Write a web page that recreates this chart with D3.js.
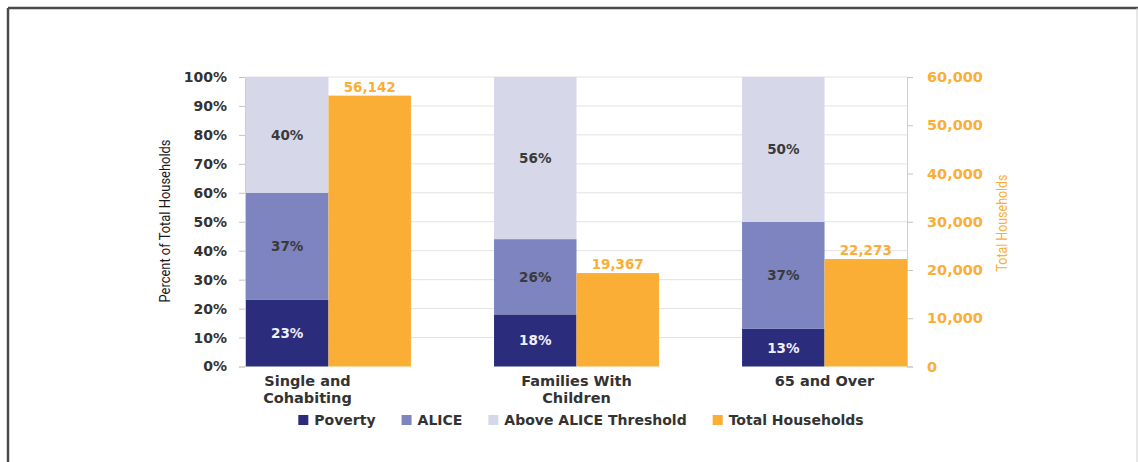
<!DOCTYPE html>
<html>
<head>
<meta charset="utf-8">
<script src="https://cdn.jsdelivr.net/npm/d3@7/dist/d3.min.js"></script>
<style>
  html, body { margin: 0; padding: 0; background: #fff; }
  svg { display: block; }
</style>
</head>
<body>
<svg id="chart" width="1138" height="462"></svg>
<script>
// ---- data ----
const categories = ["Single and Cohabiting", "Families With Children", "65 and Over"];
const categoryLines = [["Single and", "Cohabiting"], ["Families With", "Children"], ["65 and Over"]];
const poverty = [23, 18, 13];
const alice = [37, 26, 37];
const above = [40, 56, 50];
const totals = [56142, 19367, 22273];
const pctTicks = [0, 10, 20, 30, 40, 50, 60, 70, 80, 90, 100];
const totalTicks = [0, 10000, 20000, 30000, 40000, 50000, 60000];
const seriesNames = ["Poverty", "ALICE", "Above ALICE Threshold", "Total Households"];

// ---- style ----
const colors = { Poverty: "#2b2d7c", ALICE: "#7d84bf", "Above ALICE Threshold": "#d6d8ea", "Total Households": "#fbae36" };
const boldFont = "'DejaVu Sans', sans-serif";
const narrowFont = "'Liberation Sans Narrow', 'Roboto', sans-serif";

const svg = d3.select("#chart");

// frame
svg.append("line").attr("x1", 8).attr("x2", 1138).attr("y1", 8).attr("y2", 8).attr("stroke", "#4a4a4a").attr("stroke-width", 2.5);
svg.append("line").attr("x1", 8).attr("x2", 8).attr("y1", 8).attr("y2", 462).attr("stroke", "#4a4a4a").attr("stroke-width", 2.5);
svg.append("line").attr("x1", 1137).attr("x2", 1137).attr("y1", 8).attr("y2", 462).attr("stroke", "#d0d0d0").attr("stroke-width", 1);

const plotL = 245, plotR = 907, plotT = 77, plotB = 366.5;

const yPct = d3.scaleLinear().domain([0, 100]).range([plotB, plotT]);
const yTot = d3.scaleLinear().domain([0, 60000]).range([plotB, plotT]);
const x0 = d3.scaleBand().domain(categories).range([plotL + 1, plotR]).paddingInner(0.335).paddingOuter(0);
const x1 = d3.scaleBand().domain(["stack", "total"]).range([0, x0.bandwidth()]).padding(0);

// gridlines
svg.append("g").selectAll("line").data(pctTicks.filter(d => d > 0)).join("line")
  .attr("x1", plotL).attr("x2", plotR)
  .attr("y1", d => yPct(d)).attr("y2", d => yPct(d))
  .attr("stroke", "#e2e2e2").attr("stroke-width", 1);

// left axis
const leftAxis = svg.append("g").attr("transform", `translate(${plotL},0)`)
  .call(d3.axisLeft(yPct).tickValues(pctTicks).tickFormat(d => d + "%").tickSize(6).tickPadding(12));
leftAxis.select(".domain").attr("stroke", "#cfcfcf");
leftAxis.selectAll(".tick line").attr("stroke", "#c4c4c4");
leftAxis.selectAll(".tick text").attr("fill", "#333").attr("font-family", boldFont).attr("font-weight", "bold").attr("font-size", 14);

// right axis
const rightAxis = svg.append("g").attr("transform", `translate(${plotR},0)`)
  .call(d3.axisRight(yTot).tickValues(totalTicks).tickFormat(d3.format(",")).tickSize(6).tickPadding(14));
rightAxis.select(".domain").attr("stroke", "#cfcfcf");
rightAxis.selectAll(".tick line").attr("stroke", "#c4c4c4");
rightAxis.selectAll(".tick text").attr("fill", "#fbae36").attr("font-family", boldFont).attr("font-weight", "bold").attr("font-size", 14.5);

// stacked data
const rows = categories.map((c, i) => ({ cat: c, Poverty: poverty[i], ALICE: alice[i], "Above ALICE Threshold": above[i] }));
const stack = d3.stack().keys(["Poverty", "ALICE", "Above ALICE Threshold"])(rows);

const gStack = svg.append("g");
stack.forEach(layer => {
  gStack.append("g").attr("fill", colors[layer.key]).selectAll("rect").data(layer).join("rect")
    .attr("x", d => x0(d.data.cat) + x1("stack"))
    .attr("width", x1.bandwidth())
    .attr("y", d => yPct(d[1]))
    .attr("height", d => yPct(d[0]) - yPct(d[1]));
  gStack.append("g").selectAll("text").data(layer).join("text")
    .attr("x", d => x0(d.data.cat) + x1("stack") + x1.bandwidth() / 2)
    .attr("y", d => (yPct(d[0]) + yPct(d[1])) / 2 + 5)
    .attr("text-anchor", "middle")
    .attr("font-family", boldFont).attr("font-weight", "bold").attr("font-size", 13.5)
    .attr("fill", layer.key === "Poverty" ? "#f0f0f8" : "#3a3a3a")
    .text(d => (d[1] - d[0]) + "%");
});

// totals bars
const gTot = svg.append("g");
gTot.selectAll("rect").data(categories).join("rect")
  .attr("x", c => x0(c) + x1("total"))
  .attr("width", x1.bandwidth())
  .attr("y", (c, i) => yTot(totals[i]))
  .attr("height", (c, i) => plotB - yTot(totals[i]))
  .attr("fill", colors["Total Households"]);
gTot.selectAll("text").data(categories).join("text")
  .attr("x", c => x0(c) + x1("total") + x1.bandwidth() / 2)
  .attr("y", (c, i) => yTot(totals[i]) - 4)
  .attr("text-anchor", "middle")
  .attr("font-family", boldFont).attr("font-weight", "bold").attr("font-size", 13.5)
  .attr("fill", "#fbae36")
  .text((c, i) => d3.format(",")(totals[i]));

// category labels
const labelShift = [-21, 0, 0];
const gCat = svg.append("g");
categories.forEach((c, i) => {
  const t = gCat.append("text")
    .attr("x", x0(c) + x0.bandwidth() / 2 + labelShift[i])
    .attr("y", 386)
    .attr("text-anchor", "middle")
    .attr("font-family", boldFont).attr("font-weight", "bold").attr("font-size", 14.5)
    .attr("fill", "#333");
  categoryLines[i].forEach((ln, j) => {
    t.append("tspan").attr("x", x0(c) + x0.bandwidth() / 2 + labelShift[i]).attr("dy", j === 0 ? 0 : 17).text(ln);
  });
});

// axis titles
svg.append("text")
  .attr("transform", `translate(170,221) rotate(-90)`)
  .attr("text-anchor", "middle")
  .attr("font-family", narrowFont).attr("font-size", 14)
  .attr("fill", "#1a1a1a")
  .attr("textLength", 163).attr("lengthAdjust", "spacingAndGlyphs")
  .text("Percent of Total Households");
svg.append("text")
  .attr("transform", `translate(1007,223) rotate(-90)`)
  .attr("text-anchor", "middle")
  .attr("font-family", narrowFont).attr("font-size", 14)
  .attr("fill", "#fbae36")
  .attr("textLength", 97).attr("lengthAdjust", "spacingAndGlyphs")
  .text("Total Households");

// legend
const legend = svg.append("g");
let lx = 0;
const legendGap = 26;
seriesNames.forEach(name => {
  const g = legend.append("g").attr("transform", `translate(${lx},0)`);
  g.append("rect").attr("x", 0).attr("y", -5).attr("width", 10).attr("height", 10).attr("fill", colors[name]);
  const t = g.append("text").attr("x", 16).attr("y", 5)
    .attr("font-family", boldFont).attr("font-weight", "bold").attr("font-size", 14)
    .attr("fill", "#333").text(name);
  const w = t.node().getComputedTextLength();
  lx += 16 + w + legendGap;
});
const totalW = lx - legendGap;
legend.attr("transform", `translate(${581 - totalW / 2},420)`);
</script>
</body>
</html>
